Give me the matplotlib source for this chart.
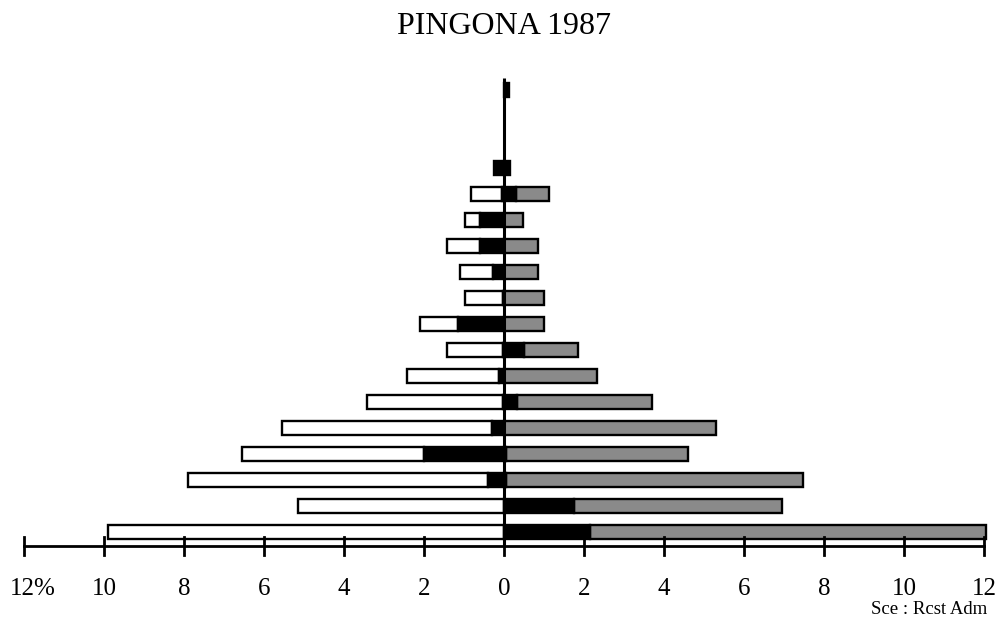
import matplotlib
matplotlib.use("Agg")
import matplotlib.pyplot as plt
import numpy as np

# age rows from bottom (youngest) to top, values in % of population
rows = list(range(18))
left_total = [9.9, 5.15, 7.9, 6.55, 5.55, 3.43, 2.43, 1.43, 2.1, 0.975,
              1.1, 1.43, 0.97, 0.83, 0.25, 0, 0, 0]
left_black = [0, 0, 0.4, 2.0, 0.3, 0.03, 0.13, 0.03, 1.15, 0.03,
              0.28, 0.6, 0.6, 0.05, 0.25, 0, 0, 0]
right_total = [12.05, 6.95, 7.475, 4.6, 5.3, 3.7, 2.33, 1.85, 1.0, 1.0,
               0.85, 0.85, 0.47, 1.13, 0.15, 0, 0, 0.12]
right_black = [2.15, 1.75, 0.05, 0.05, 0, 0.33, 0, 0.5, 0, 0,
               0, 0, 0, 0.3, 0.15, 0, 0, 0.12]
tick_values = [-12, -10, -8, -6, -4, -2, 0, 2, 4, 6, 8, 10, 12]
tick_labels = ['12%', '10', '8', '6', '4', '2', '0', '2', '4', '6', '8', '10', '12']

plt.rcParams['font.family'] = ['Liberation Serif', 'DejaVu Serif']

fig = plt.figure(figsize=(10.01, 6.18), dpi=100)
ax = fig.add_axes([0, 0, 1, 1])
ax.set_xlim(-504 / 40, (1001 - 504) / 40)
ax.set_ylim(-86 / 26, 532 / 26)
ax.axis('off')

lt = np.array(left_total)
lb = np.array(left_black)
rt = np.array(right_total)
rb = np.array(right_black)
y = np.array(rows)
h = 0.54
lw = 1.7


def draw(left, width, color):
    # skip empty segments so no stray outline is drawn
    m = np.abs(width) > 0
    ax.barh(y[m], width[m], left=left[m], height=h, color=color,
            edgecolor='black', linewidth=lw)


# left side: black part next to the axis, white outer part
draw(-lb, -(lt - lb), 'white')
draw(np.zeros_like(lb), -lb, 'black')
# right side: black inner, grey outer
draw(rb, rt - rb, '#8a8a8a')
draw(np.zeros_like(rb), rb, 'black')

# centre line
ax.plot([0, 0], [-0.54, 17.46], color='black', lw=2.2, solid_capstyle='butt')

# bottom scale
ax.plot([-12, 12], [-0.54, -0.54], color='black', lw=2.0)
for v, lab in zip(tick_values, tick_labels):
    ax.plot([v, v], [-0.19, -0.88], color='black', lw=2.0)
    if lab.endswith('%'):
        ax.text(v - 0.36, -2.2, lab, ha='left', va='center', fontsize=18)
    else:
        ax.text(v, -2.2, lab, ha='center', va='center', fontsize=18)

ax.text(0, 19.45, 'PINGONA 1987', ha='center', va='center', fontsize=23)
ax.text(12.08, -3.0, 'Sce : Rcst Adm', ha='right', va='center', fontsize=13.5)

fig.savefig('out.png', dpi=100)
